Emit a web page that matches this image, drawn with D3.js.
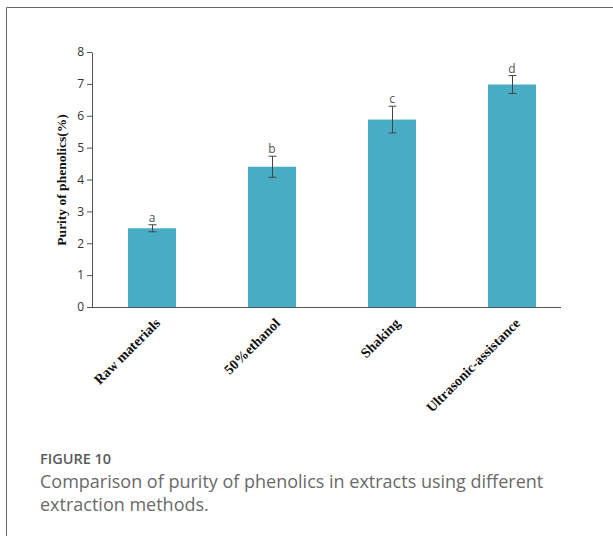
<!DOCTYPE html>
<html>
<head>
<meta charset="utf-8">
<script src="https://cdn.jsdelivr.net/npm/d3@7"></script>
<style>
  html, body { margin: 0; padding: 0; background: #fff; }
  svg { display: block; }
</style>
</head>
<body>
<svg id="chart" width="613" height="536"></svg>
<script>
// Extraction methods and measured purity of phenolics (%)
const categories = ["Raw materials", "50%ethanol", "Shaking", "Ultrasonic-assistance"];
const purity = [2.47, 4.40, 5.88, 6.98];
const errors = [0.11, 0.33, 0.42, 0.28];
const groups = ["a", "b", "c", "d"];
const yTicks = [0, 1, 2, 3, 4, 5, 6, 7, 8];

const svg = d3.select("#chart");

// frame around the figure
svg.append("path")
  .attr("d", "M6.5,536 V7.5 H613")
  .attr("fill", "none")
  .attr("stroke", "#6a6a6a")
  .attr("stroke-width", 1);

const x = d3.scaleBand().domain(categories).range([92, 572])
  .paddingInner(0.6).paddingOuter(0.3);
const y = d3.scaleLinear().domain([0, 8]).range([307, 52]);

// y axis
const yAxis = svg.append("g")
  .attr("transform", "translate(92,0)")
  .call(d3.axisLeft(y).tickValues(yTicks).tickSize(5).tickPadding(3).tickSizeOuter(0));
yAxis.select(".domain").attr("stroke", "#555");
yAxis.selectAll(".tick line").attr("stroke", "#555");
yAxis.selectAll(".tick text")
  .attr("fill", "#333")
  .style("font-family", "'Open Sans', sans-serif")
  .style("font-size", "12px");

// x axis baseline
svg.append("line")
  .attr("x1", 92).attr("x2", 561)
  .attr("y1", y(0) + 0.5).attr("y2", y(0) + 0.5)
  .attr("stroke", "#555");

// bars
svg.append("g").selectAll("rect")
  .data(categories)
  .join("rect")
  .attr("x", d => x(d))
  .attr("width", x.bandwidth())
  .attr("y", (d, i) => y(purity[i]))
  .attr("height", (d, i) => y(0) - y(purity[i]))
  .attr("fill", "#49acc5");

// error bars
const eb = svg.append("g").attr("stroke", "#444").attr("stroke-width", 1);
categories.forEach((c, i) => {
  const cx = Math.round(x(c) + x.bandwidth() / 2) + 0.5;
  const top = y(purity[i] + errors[i]);
  const bot = y(purity[i] - errors[i]);
  eb.append("line").attr("x1", cx).attr("x2", cx).attr("y1", top).attr("y2", bot);
  eb.append("line").attr("x1", cx - 4).attr("x2", cx + 4).attr("y1", top).attr("y2", top);
  eb.append("line").attr("x1", cx - 4).attr("x2", cx + 4).attr("y1", bot).attr("y2", bot);
});

// significance letters
svg.append("g").selectAll("text")
  .data(categories)
  .join("text")
  .attr("x", d => x(d) + x.bandwidth() / 2)
  .attr("y", (d, i) => y(purity[i] + errors[i]) - 3)
  .attr("text-anchor", "middle")
  .attr("fill", "#555")
  .style("font-family", "'Open Sans', sans-serif")
  .style("font-size", "12px")
  .text((d, i) => groups[i]);

// category labels
svg.append("g").selectAll("text")
  .data(categories)
  .join("text")
  .attr("transform", d => `translate(${x(d) + x.bandwidth() / 2 + 9},${y(0) + 17}) rotate(-45)`)
  .attr("text-anchor", "end")
  .attr("fill", "#111")
  .style("font-family", "'Liberation Serif', 'Times New Roman', serif")
  .style("font-weight", "bold")
  .style("font-size", "14px")
  .text(d => d);

// y axis title
const yt = svg.append("text")
  .attr("transform", "translate(66,180) rotate(-90)")
  .attr("text-anchor", "middle")
  .attr("fill", "#111")
  .style("font-family", "'Liberation Serif', 'Times New Roman', serif")
  .style("font-size", "13.5px");
yt.append("tspan").style("font-weight", "bold").text("Purity");
yt.append("tspan").style("font-weight", "bold").text(" of phenolics(%)");

// caption
svg.append("text")
  .attr("x", 40).attr("y", 464)
  .attr("fill", "#5a5a5a")
  .style("font-family", "'Open Sans', sans-serif")
  .style("font-weight", "600")
  .style("font-size", "14.5px")
  .text("FIGURE 10");
const cap = svg.append("text")
  .attr("fill", "#6a6a6a")
  .style("font-family", "'Open Sans', sans-serif")
  .style("font-size", "18px");
cap.append("tspan").attr("x", 40).attr("y", 488)
  .text("Comparison of purity of phenolics in extracts using different");
cap.append("tspan").attr("x", 40).attr("y", 511)
  .text("extraction methods.");
</script>
</body>
</html>
